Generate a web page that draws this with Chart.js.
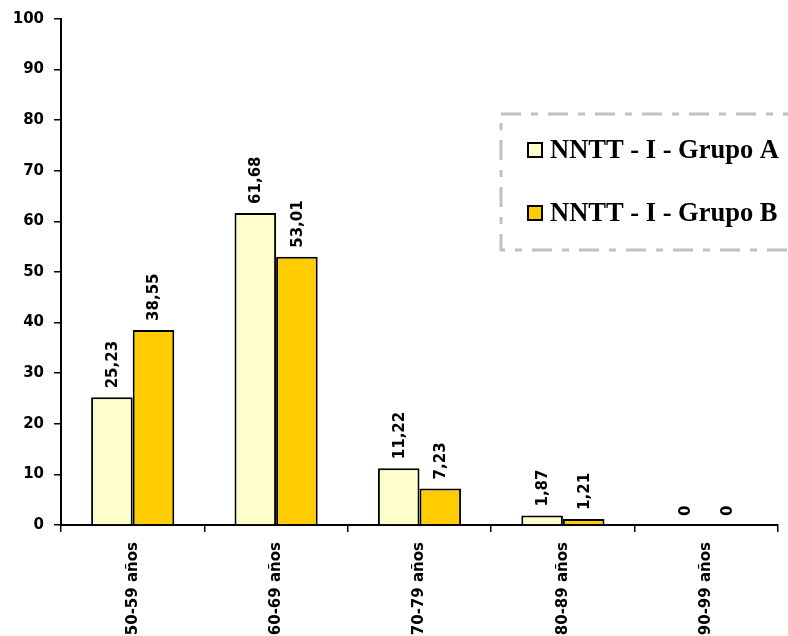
<!DOCTYPE html>
<html>
<head>
<meta charset="utf-8">
<script src="https://cdn.jsdelivr.net/npm/chart.js@4"></script>
<style>
  html, body { margin: 0; padding: 0; background: #fff; }
  #wrap { width: 788px; height: 636px; }
</style>
</head>
<body>
<div id="wrap"><canvas id="myChart"></canvas></div>
<script>
const categories = ['50-59 años', '60-69 años', '70-79 años', '80-89 años', '90-99 años'];
const seriesNames = ['NNTT - I - Grupo A', 'NNTT - I - Grupo B'];
const grupoA = [25.23, 61.68, 11.22, 1.87, 0];
const grupoB = [38.55, 53.01, 7.23, 1.21, 0];
const yTicks = [0, 10, 20, 30, 40, 50, 60, 70, 80, 90, 100];

const tickFont = { family: '"DejaVu Sans"', size: 15, weight: 'bold' };

// value labels written upwards above every bar
const barLabels = {
    id: 'barLabels',
    afterDatasetsDraw(chart) {
        const ctx = chart.ctx;
        ctx.save();
        ctx.fillStyle = '#000';
        ctx.font = 'bold 15px "DejaVu Sans"';
        ctx.textAlign = 'left';
        ctx.textBaseline = 'middle';
        chart.data.datasets.forEach(function (ds, i) {
            chart.getDatasetMeta(i).data.forEach(function (bar, j) {
                const txt = String(ds.data[j]).replace('.', ',');
                ctx.save();
                ctx.translate(bar.x + 1, bar.y - 9);
                ctx.rotate(-Math.PI / 2);
                ctx.fillText(txt, 0, 0);
                ctx.restore();
            });
        });
        ctx.restore();
    }
};

// boxed legend with dash-dot grey frame
const boxLegend = {
    id: 'boxLegend',
    afterDraw(chart) {
        const ctx = chart.ctx;
        ctx.save();
        ctx.strokeStyle = '#c0c0c0';
        ctx.lineWidth = 3;
        ctx.setLineDash([20, 10, 7, 10]);
        ctx.strokeRect(501, 114, 310, 136);
        ctx.setLineDash([]);
        ctx.font = 'bold 26.5px "Liberation Serif", "Times New Roman", serif';
        ctx.textBaseline = 'middle';
        ctx.textAlign = 'left';
        chart.data.datasets.forEach(function (ds, i) {
            const y = 150 + i * 63;
            ctx.fillStyle = ds.backgroundColor;
            ctx.fillRect(528, y - 7, 14, 14);
            ctx.strokeStyle = '#000';
            ctx.lineWidth = 2;
            ctx.strokeRect(528, y - 7, 14, 14);
            ctx.fillStyle = '#000';
            ctx.fillText(ds.label, 550, y + 1);
        });
        ctx.restore();
    }
};

const data = {
    labels: categories,
    datasets: [{
        label: seriesNames[0],
        data: grupoA,
        backgroundColor: '#FFFFCC',
        borderColor: '#000',
        borderWidth: 2,
        categoryPercentage: 0.58,
        barPercentage: 1
    }, {
        label: seriesNames[1],
        data: grupoB,
        backgroundColor: '#FFCC00',
        borderColor: '#000',
        borderWidth: 2,
        categoryPercentage: 0.58,
        barPercentage: 1
    }]
};

const config = {
    type: 'bar',
    data: data,
    options: {
        responsive: true,
        maintainAspectRatio: false,
        animation: false,
        layout: { padding: { top: 14, right: 10, left: 0, bottom: 0 } },
        plugins: {
            legend: { display: false },
            tooltip: { enabled: false }
        },
        scales: {
            x: {
                offset: true,
                grid: { display: true, drawOnChartArea: false, drawTicks: true, tickLength: 7, color: '#000', lineWidth: 1.5, offset: true },
                border: { display: true, color: '#000', width: 2 },
                ticks: { color: '#000', font: tickFont, maxRotation: 90, minRotation: 90, padding: 10 },
                afterFit: function (scale) { scale.height = 111; }
            },
            y: {
                min: 0,
                max: 100,
                afterBuildTicks: function (scale) { scale.ticks = yTicks.map(v => ({ value: v })); },
                grid: { display: true, drawOnChartArea: false, drawTicks: true, tickLength: 7, color: '#000', lineWidth: 1.5 },
                border: { display: true, color: '#000', width: 2 },
                ticks: { color: '#000', font: tickFont, padding: 10 },
                afterFit: function (scale) { scale.width = 61; }
            }
        }
    },
    plugins: [barLabels, boxLegend]
};

let myChart = new Chart(document.getElementById('myChart'), config);
</script>
</body>
</html>
